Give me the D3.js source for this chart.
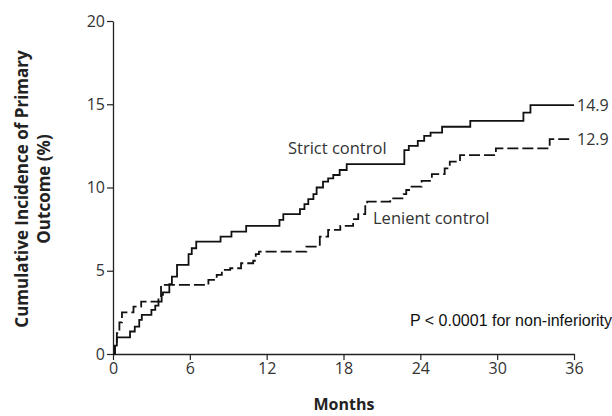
<!DOCTYPE html>
<html>
<head>
<meta charset="utf-8">
<script src="https://cdn.jsdelivr.net/npm/d3@7"></script>
<style>
  body { margin: 0; background: #fff; }
  text { font-family: "Open Sans", "Noto Sans", sans-serif; }
</style>
</head>
<body>
<div id="chart"></div>
<script>
// x ticks (months) and y ticks (%)
const xTicks = [0, 6, 12, 18, 24, 30, 36];
const yTicks = [0, 5, 10, 15, 20];

// strict control: step points (month, cumulative %)
const strictMonths = [0, 0.15, 0.3, 1.33, 1.7, 2.05, 2.25, 3.0, 3.3, 3.55, 3.8, 3.9, 4.4, 4.6, 5.0, 5.9, 6.15, 6.5,
    8.4, 9.25, 10.4, 13.0, 13.3, 14.6, 14.95, 15.25, 15.65, 15.9, 16.4, 16.8, 17.2, 17.7, 18.25,
    22.75, 23.1, 23.8, 24.3, 24.8, 25.7, 27.9, 32.05, 32.6, 36];
const strictValues = [0, 0.5, 1.0, 1.35, 1.65, 2.05, 2.35, 2.65, 2.9, 3.15, 3.55, 3.7, 4.2, 4.65, 5.35, 6.0, 6.35, 6.75,
    7.05, 7.35, 7.7, 8.05, 8.4, 8.7, 9.0, 9.3, 9.6, 10.0, 10.35, 10.55, 10.75, 11.05, 11.4,
    12.25, 12.5, 12.8, 13.1, 13.3, 13.65, 14.0, 14.5, 14.95, 14.95];

// lenient control
const lenientMonths = [0, 0.15, 0.3, 0.5, 0.7, 1.6, 2.2, 3.55, 3.75, 7.45, 8.1, 8.5, 9.15, 10.0, 10.95, 11.15, 11.4,
    15.1, 16.15, 16.8, 17.75, 18.75, 19.15, 19.7, 19.85, 21.65, 22.7, 22.9, 23.2, 24.1, 24.9, 25.9, 26.3, 27.1,
    29.9, 34.1, 35.7];
const lenientValues = [0, 0.6, 1.25, 1.9, 2.5, 2.85, 3.15, 3.35, 4.15, 4.45, 4.75, 5.05, 5.15, 5.45, 5.6, 6.0, 6.15,
    6.45, 7.05, 7.45, 7.7, 8.1, 8.4, 9.05, 9.15, 9.35, 9.6, 9.85, 10.05, 10.4, 10.8, 11.15, 11.55, 11.95,
    12.35, 12.9, 12.9];

const finalLabels = ["14.9", "12.9"];

const width = 612;
const height = 416;

const svg = d3.select("#chart")
    .append("svg")
    .attr("width", width)
    .attr("height", height);

const xScale = d3.scaleLinear().domain([0, 36]).range([113, 574]);
const yScale = d3.scaleLinear().domain([0, 20]).range([354, 21]);

// axes
const xAxis = svg.append("g")
    .attr("transform", `translate(0, ${yScale(0)})`)
    .call(d3.axisBottom(xScale).tickValues(xTicks).tickSize(6).tickPadding(3).tickSizeOuter(0));
const yAxis = svg.append("g")
    .attr("transform", `translate(${xScale(0)}, 0)`)
    .call(d3.axisLeft(yScale).tickValues(yTicks).tickSize(6).tickPadding(2).tickSizeOuter(0));

[xAxis, yAxis].forEach(function (a) {
    a.select(".domain").attr("stroke", "#222").attr("stroke-width", 1.3);
    a.selectAll(".tick line").attr("stroke", "#222").attr("stroke-width", 1.2);
    a.selectAll(".tick text")
        .attr("fill", "#333")
        .attr("font-size", "16px")
        .style("font-family", "'Open Sans', sans-serif");
});

// step lines
const line = d3.line()
    .x(function (d) { return xScale(d[0]); })
    .y(function (d) { return yScale(d[1]); })
    .curve(d3.curveStepAfter);

const strictData = strictMonths.map(function (m, i) { return [m, strictValues[i]]; });
const lenientData = lenientMonths.map(function (m, i) { return [m, lenientValues[i]]; });

svg.append("path")
    .datum(lenientData)
    .attr("d", line)
    .attr("fill", "none")
    .attr("stroke", "#111")
    .attr("stroke-width", 1.8)
    .attr("stroke-dasharray", "11,4");

svg.append("path")
    .datum(strictData)
    .attr("d", line)
    .attr("fill", "none")
    .attr("stroke", "#111")
    .attr("stroke-width", 1.8);

// end labels
svg.append("text")
    .attr("x", xScale(36) + 3)
    .attr("y", yScale(strictValues[strictValues.length - 1]))
    .attr("dy", "0.35em")
    .attr("font-size", "16px")
    .attr("fill", "#333")
    .text(finalLabels[0]);
svg.append("text")
    .attr("x", xScale(36) + 3)
    .attr("y", yScale(lenientValues[lenientValues.length - 1]))
    .attr("dy", "0.35em")
    .attr("font-size", "16px")
    .attr("fill", "#333")
    .text(finalLabels[1]);

// series labels
svg.append("text")
    .attr("x", 288)
    .attr("y", 154)
    .attr("font-size", "16.5px")
    .attr("fill", "#333")
    .text("Strict control");
svg.append("text")
    .attr("x", 373)
    .attr("y", 224)
    .attr("font-size", "16.5px")
    .attr("fill", "#333")
    .text("Lenient control");

// p value
svg.append("text")
    .attr("x", 410)
    .attr("y", 326)
    .attr("font-size", "16px")
    .attr("fill", "#111")
    .style("font-family", "'Liberation Sans', Arial, sans-serif")
    .text("P < 0.0001 for non-inferiority");

// axis titles
svg.append("text")
    .attr("x", 344)
    .attr("y", 410)
    .attr("text-anchor", "middle")
    .attr("font-size", "16px")
    .attr("font-weight", "bold")
    .attr("fill", "#222")
    .text("Months");

const yTitle = svg.append("text")
    .attr("transform", "translate(28, 189) rotate(-90)")
    .attr("text-anchor", "middle")
    .attr("font-size", "17px")
    .attr("font-weight", "bold")
    .attr("fill", "#222");
yTitle.append("tspan").attr("x", 0).attr("dy", 0).text("Cumulative Incidence of Primary");
yTitle.append("tspan").attr("x", 0).attr("dy", 22).text("Outcome (%)");
</script>
</body>
</html>
